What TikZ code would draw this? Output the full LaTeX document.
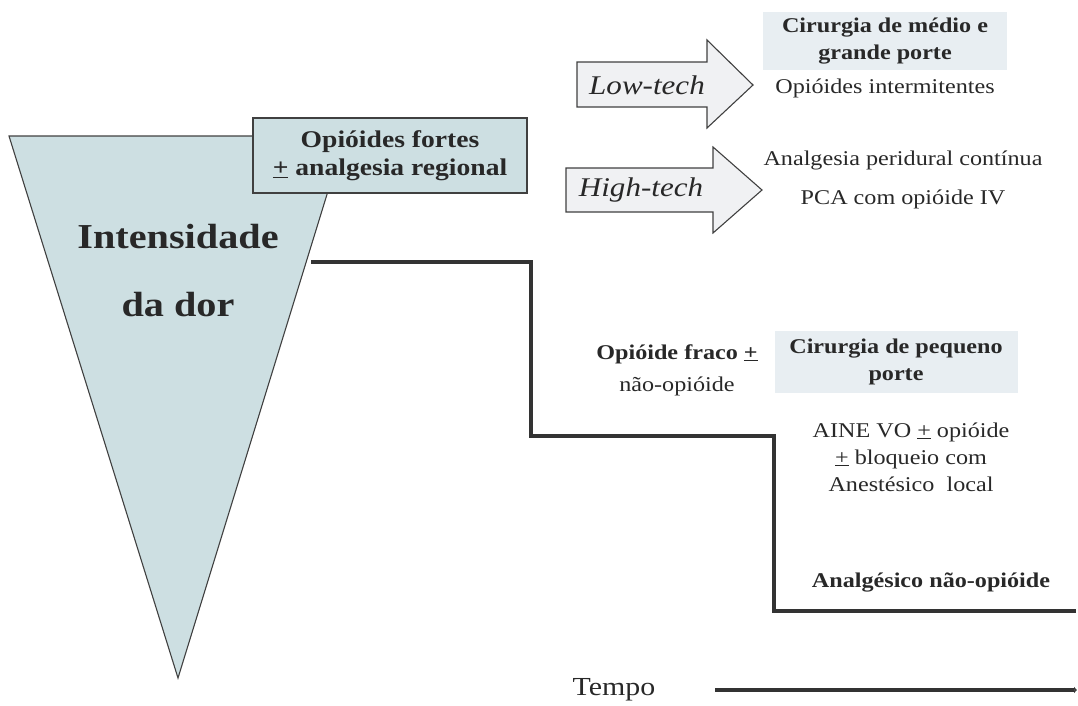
\documentclass[tikz,border=0pt]{standalone}
\usepackage{fontspec}
\setmainfont[FakeStretch=1.15]{Liberation Serif}
\usetikzlibrary{arrows.meta}
\definecolor{tri}{RGB}{205,223,226}
\definecolor{lbox}{RGB}{232,238,242}
\definecolor{arrfill}{RGB}{240,241,243}
\definecolor{edge}{RGB}{64,64,64}
\definecolor{stepc}{RGB}{51,51,51}
\definecolor{txt}{RGB}{40,40,40}
\tikzset{
  outl/.style={draw=edge, line width=1.1pt},
  stepline/.style={draw=stepc, line width=4pt, line join=miter},
  reg/.style={text=txt, inner sep=0pt, align=center, font=\fontsize{21}{27}\selectfont},
  bld/.style={text=txt, inner sep=0pt, align=center, font=\fontsize{21}{27}\selectfont\bfseries},
  big/.style={text=txt, inner sep=0pt, font=\fontsize{35}{40}\selectfont\bfseries},
  ital/.style={text=txt, inner sep=0pt, font=\fontsize{27}{30}\selectfont\itshape},
}
\begin{document}
\begin{tikzpicture}[x=1pt,y=-1pt]
\useasboundingbox (0,0) rectangle (1078,705);
% triangle
\draw[outl, fill=tri] (9,136) -- (345,136) -- (178,678) -- cycle;
\node[big] (intens) at (178,237) {Intensidade};
\node[big] (dador) at (178,305) {da dor};
% strong opioids box
\node[outl, fill=tri, minimum width=274pt, minimum height=75pt, inner sep=0pt,
      text=txt, align=center, font=\fontsize{24}{28}\selectfont\bfseries]
      (fortes) at (390,155.5) {Opióides fortes\\\underline{+} analgesia regional};
% arrows
\draw[outl, fill=arrfill] (577,62) -- (707,62) -- (707,40) -- (753,85) -- (707,128) -- (707,107) -- (577,107) -- cycle;
\node[ital] (low) at (647,85) {Low-tech};
\draw[outl, fill=arrfill] (566,168) -- (713,168) -- (713,147) -- (762,190) -- (713,233) -- (713,212) -- (566,212) -- cycle;
\node[ital] (high) at (641,190) {High-tech};
% right texts top
\node[bld, fill=lbox, minimum width=244pt, minimum height=58pt] (medio) at (885,41) {Cirurgia de médio e\\grande porte};
\node[reg] (interm) at (885,88) {Opióides intermitentes};
\node[reg] (perid) at (903,160) {Analgesia peridural contínua};
\node[reg] (pca) at (903,199) {PCA com opióide IV};
% middle texts
\node[text=txt, inner sep=0pt, align=center, font=\fontsize{21}{32}\selectfont] (fraco) at (677,370) {\textbf{Opióide fraco \underline{+}}\\não-opióide};
\node[bld, fill=lbox, minimum width=243pt, minimum height=62pt] (pequeno) at (896,362) {Cirurgia de pequeno\\porte};
\node[reg] (aine) at (911,457) {AINE VO \underline{+} opióide\\\underline{+} bloqueio com\\Anestésico\ \ local};
\node[bld] (naoop) at (931,582) {Analgésico não-opióide};
% step line
\coordinate (s0) at (311,262);
\coordinate (s1) at (531,262);
\coordinate (s2) at (531,436);
\coordinate (s3) at (774,436);
\coordinate (s4) at (774,611);
\coordinate (s5) at (1076,611);
\draw[stepline] (s0) -- (s1) -- (s2) -- (s3) -- (s4) -- (s5);
% time axis
\node[text=txt, inner sep=0pt, font=\fontsize{26}{30}\selectfont] (tempo) at (614,690) {Tempo};
\coordinate (t0) at (715,690);
\coordinate (t1) at (1077,690);
\draw[draw=stepc, line width=4pt, -{Latex[length=3pt,width=7pt]}] (t0) -- (t1);
\end{tikzpicture}
\end{document}
